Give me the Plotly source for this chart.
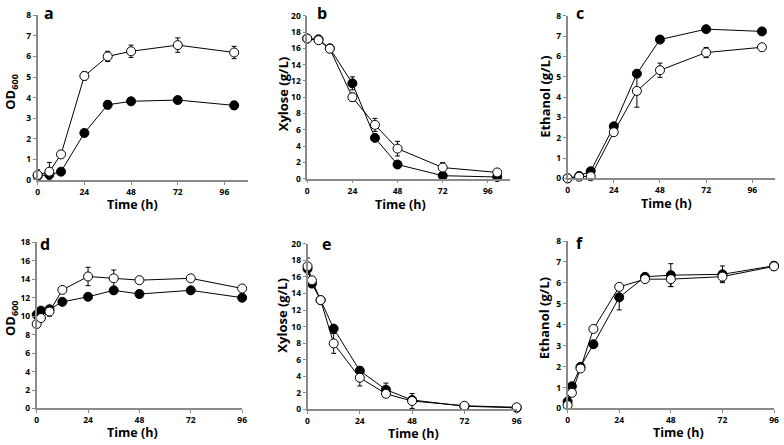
import plotly.graph_objects as go

W, H = 784, 445

# ---- data ----
time_top = [0, 6, 12, 24, 36, 48, 72, 101]
time_bot = [0, 2, 6, 12, 24, 36, 48, 72, 96]

od_a_filled = [0.2, 0.25, 0.4, 2.28, 3.65, 3.82, 3.88, 3.62]
od_a_filled_err = [0.1, 0.2, 0.1, 0.1, 0.2, 0.1, 0.1, 0.2]
od_a_open = [0.24, 0.4, 1.24, 5.05, 6.0, 6.25, 6.55, 6.19]
od_a_open_err = [0.25, 0.45, 0.1, 0.2, 0.25, 0.3, 0.35, 0.3]

xyl_b_filled = [17.2, 17.1, 16.0, 11.7, 5.0, 1.73, 0.36, 0.2]
xyl_b_filled_err = [0.2, 0.2, 0.2, 0.8, 0.3, 0.3, 0.3, 0.1]
xyl_b_open = [17.2, 17.0, 15.95, 10.0, 6.6, 3.68, 1.36, 0.76]
xyl_b_open_err = [0.3, 0.2, 0.2, 0.5, 0.8, 0.9, 0.6, 0.2]

eth_c_filled = [0.0, 0.12, 0.35, 2.56, 5.15, 6.83, 7.34, 7.23]
eth_c_filled_err = [0, 0.05, 0.1, 0.1, 0.1, 0.1, 0.1, 0.1]
eth_c_open = [0.0, 0.08, 0.1, 2.27, 4.3, 5.32, 6.19, 6.45]
eth_c_open_err = [0, 0.05, 0.05, 0.15, 0.8, 0.35, 0.25, 0.1]

od_d_filled = [10.15, 10.6, 10.75, 11.55, 12.1, 12.8, 12.4, 12.8, 12.0]
od_d_filled_err = [0.3, 0.2, 0.3, 0.3, 0.3, 0.4, 0.3, 0.3, 0.3]
od_d_open = [9.15, 9.8, 10.5, 12.85, 14.3, 14.1, 13.9, 14.1, 13.0]
od_d_open_err = [0.3, 0.3, 0.5, 0.3, 1.0, 0.9, 0.3, 0.3, 0.3]

xyl_e_filled = [17.0, 15.2, 13.2, 9.75, 4.65, 2.35, 1.1, 0.35, 0.15]
xyl_e_filled_err = [0.5, 0.3, 0.3, 0.3, 0.5, 0.8, 0.3, 0.1, 0.1]
xyl_e_open = [17.3, 15.6, 13.2, 7.95, 3.8, 1.85, 0.98, 0.4, 0.22]
xyl_e_open_err = [1.0, 0.3, 0.3, 1.2, 1.0, 0.3, 0.9, 0.2, 0.1]

eth_f_filled = [0.33, 1.06, 1.99, 3.07, 5.31, 6.29, 6.37, 6.41, 6.82]
eth_f_filled_err = [0.1, 0.1, 0.1, 0.1, 0.6, 0.1, 0.55, 0.4, 0.2]
eth_f_open = [0.16, 0.75, 1.91, 3.8, 5.81, 6.18, 6.18, 6.3, 6.79]
eth_f_open_err = [0.1, 0.1, 0.1, 0.1, 0.1, 0.1, 0.35, 0.25, 0.2]

x_ticks = [0, 24, 48, 72, 96]

# ---- panel geometry (pixels) ----
panels = [
    ("a", time_top, od_a_filled, od_a_filled_err, od_a_open, od_a_open_err, 8, 1, 108, 36, 248, 9.5, 178.3, "OD<sub>600</sub>"),
    ("b", time_top, xyl_b_filled, xyl_b_filled_err, xyl_b_open, xyl_b_open_err, 20, 2, 108, 308, 513, 10, 177, "Xylose (g/L)"),
    ("c", time_top, eth_c_filled, eth_c_filled_err, eth_c_open, eth_c_open_err, 8, 1, 108, 570.7, 780.4, 10, 176.7, "Ethanol (g/L)"),
    ("d", time_bot, od_d_filled, od_d_filled_err, od_d_open, od_d_open_err, 18, 2, 96, 35, 242.3, 242.3, 412.7, "OD<sub>600</sub>"),
    ("e", time_bot, xyl_e_filled, xyl_e_filled_err, xyl_e_open, xyl_e_open_err, 20, 2, 96, 308.3, 519.3, 244, 413.3, "Xylose (g/L)"),
    ("f", time_bot, eth_f_filled, eth_f_filled_err, eth_f_open, eth_f_open_err, 8, 1, 96, 570.7, 779, 241, 412.7, "Ethanol (g/L)"),
]

ytitle_pos = [(9, 88), (283, 90), (548, 93), (9, 320), (283, 317), (547, 320)]
xtitle_pos = [(132, 204), (402, 204), (670, 202), (132, 437), (415, 438), (683, 437)]
letter_pos = [(47, 7), (323, 7), (583, 7), (43, 244), (327, 244), (583, 243)]

FONT = "Open Sans"
AX = "#8a8a8a"

fig = go.Figure()
layout = dict(
    width=W, height=H, margin=dict(l=0, r=0, t=0, b=0),
    paper_bgcolor="white", plot_bgcolor="white", showlegend=False,
    font=dict(family=FONT, color="black"),
)
annotations = []

for i, (letter, t, fy, fe, oy, oe, ymax, ystep, xmax, x0, x1, yt, yb, ytitle) in enumerate(panels):
    n = "" if i == 0 else str(i + 1)
    xa, ya = "x" + n, "y" + n
    for ys, es, fill in ((fy, fe, "black"), (oy, oe, "white")):
        fig.add_trace(go.Scatter(
            x=t, y=ys, xaxis=xa, yaxis=ya, mode="lines+markers",
            line=dict(color="black", width=1),
            marker=dict(symbol="circle", size=9, color=fill, line=dict(color="black", width=1)),
            error_y=dict(type="data", array=es, visible=True, color="black", thickness=1, width=2.5),
            cliponaxis=False,
        ))
    layout["xaxis" + n] = dict(
        domain=[x0 / W, x1 / W], anchor=ya, range=[0, xmax],
        tickvals=x_ticks, ticktext=[f"<b>{v}</b>" for v in x_ticks],
        showline=True, linecolor=AX, linewidth=1.5, ticks="outside", tickcolor=AX,
        ticklen=3, tickwidth=1, showgrid=False, zeroline=False,
        tickfont=dict(size=8.5, family=FONT, color="black"),
    )
    yv = list(range(0, ymax + 1, ystep))
    layout["yaxis" + n] = dict(
        domain=[1 - yb / H, 1 - yt / H], anchor=xa, range=[0, ymax],
        tickvals=yv, ticktext=[f"<b>{v}</b>" for v in yv],
        showline=True, linecolor=AX, linewidth=1.5, ticks="outside", tickcolor=AX,
        ticklen=3, tickwidth=1, showgrid=False, zeroline=False,
        tickfont=dict(size=8.5, family=FONT, color="black"),
    )
    px, py = ytitle_pos[i]
    annotations.append(dict(x=px / W, y=1 - py / H, xref="paper", yref="paper",
                            text=f"<b>{ytitle}</b>", textangle=-90, showarrow=False,
                            font=dict(size=13, family=FONT, color="black"),
                            xanchor="center", yanchor="middle"))
    px, py = xtitle_pos[i]
    annotations.append(dict(x=px / W, y=1 - py / H, xref="paper", yref="paper",
                            text="<b>Time (h)</b>", showarrow=False,
                            font=dict(size=12.5, family=FONT, color="black"),
                            xanchor="center", yanchor="middle"))
    px, py = letter_pos[i]
    annotations.append(dict(x=px / W, y=1 - py / H, xref="paper", yref="paper",
                            text=f"<b>{letter}</b>", showarrow=False,
                            font=dict(size=16, family=FONT, color="black"),
                            xanchor="center", yanchor="middle"))

layout["annotations"] = annotations
fig.update_layout(**layout)
fig.write_html("out.html", config={"displayModeBar": False},
               post_script="document.body.style.margin='0';document.body.style.padding='0';")
